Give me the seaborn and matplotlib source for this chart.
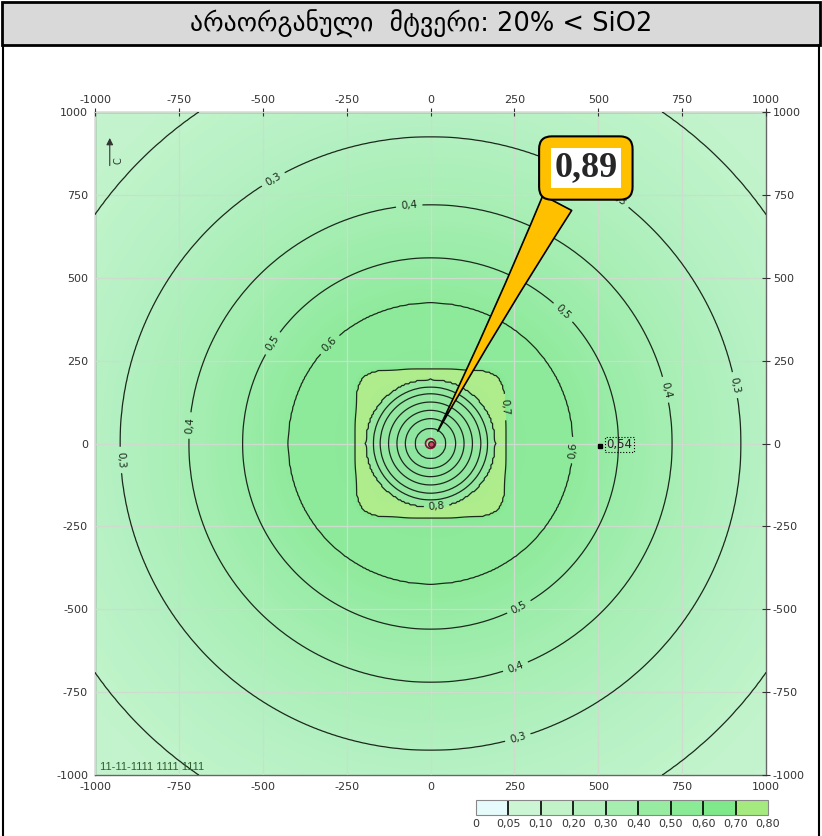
import numpy as np
import matplotlib
matplotlib.use("Agg")
import matplotlib.pyplot as plt
import seaborn as sns
from matplotlib.colors import LinearSegmentedColormap, ListedColormap, BoundaryNorm
from matplotlib.patches import Rectangle
from matplotlib.lines import Line2D

title = "არაორგანული  მტვერი: 20% < SiO2"
ticks = [-1000, -750, -500, -250, 0, 250, 500, 750, 1000]

# isolines: level value and its distance (m) from the source
peak_level = [0.89, 0.88, 0.86, 0.85, 0.84, 0.83, 0.82, 0.81, 0.80, 0.0]
peak_radius = [0, 15, 45, 75, 100, 125, 150, 170, 195, 215]
# square-ish 0.7 plateau around the source
plateau_level = [0.75, 0.70, 0.55, 0.0]
plateau_radius = [0, 225, 250, 300]
# outer round isolines
outer_level = [0.69, 0.60, 0.50, 0.40, 0.30, 0.20, 0.15]
outer_radius = [0, 425, 560, 720, 925, 1215, 1500]

main_levels = [0.2, 0.3, 0.4, 0.5, 0.6, 0.7, 0.8]
inner_levels = [0.81, 0.82, 0.83, 0.84, 0.85, 0.86]

max_text = "0,89"
point_x, point_y, point_text = 505, -8, "0,54"
bottom_text = "11-11-1111 1111 1111"

legend_bounds = [0, 0.05, 0.10, 0.20, 0.30, 0.40, 0.50, 0.60, 0.70, 0.80]
legend_labels = ["0", "0,05", "0,10", "0,20", "0,30", "0,40", "0,50", "0,60", "0,70", "0,80"]
legend_colors = ["#e6fbfb", "#ccf5d4", "#c2f3c8", "#b4f0bc", "#a6eeb0",
                 "#98eca2", "#8aea96", "#7ee88a", "#a4ea7e"]

sns.set_style("white")
plt.rcParams["font.family"] = ["DejaVu Sans"]
plt.rcParams["axes.unicode_minus"] = False

# field
g = np.linspace(-1000, 1000, 401)
X, Y = np.meshgrid(g, g)
d = np.hypot(X, Y)
ds = (np.abs(X) ** 6 + np.abs(Y) ** 6) ** (1 / 6)
Z = np.maximum.reduce([np.interp(d, peak_radius, peak_level),
                       np.interp(ds, plateau_radius, plateau_level),
                       np.interp(d, outer_radius, outer_level)])

fill_cmap = LinearSegmentedColormap.from_list("fill", [
    (0.0, "#e8fafa"), (0.1 / 0.9, "#ccf4d6"), (0.2 / 0.9, "#c0f3ca"),
    (0.3 / 0.9, "#b2f0c0"), (0.4 / 0.9, "#a6eeb3"), (0.5 / 0.9, "#9aeca8"),
    (0.6 / 0.9, "#8fea9c"), (0.699 / 0.9, "#86e893"), (0.701 / 0.9, "#aeec8c"),
    (0.799 / 0.9, "#a8ea8a"), (0.801 / 0.9, "#96e8a0"), (1.0, "#8ae4a0")])

fig = plt.figure(figsize=(8.22, 8.36), dpi=100)

# title cell
fig.patches.append(Rectangle((2 / 822, 1 - 45 / 836), 818 / 822, 43 / 836,
                             transform=fig.transFigure, fc="#d9d9d9", ec="black", lw=2))
fig.lines.append(Line2D([3 / 822, 3 / 822], [0, 1 - 45 / 836], transform=fig.transFigure, color="black", lw=1.5))
fig.lines.append(Line2D([819 / 822, 819 / 822], [0, 1 - 45 / 836], transform=fig.transFigure, color="black", lw=1.5))
fig.text(421 / 822, 1 - 24 / 836, title, ha="center", va="center", fontsize=18.5, color="black")

ax = fig.add_axes([95 / 822, 1 - 775 / 836, 671 / 822, 663 / 836])
ax.contourf(X, Y, Z, levels=np.arange(0, 0.905, 0.01), cmap=fill_cmap, vmin=0, vmax=0.9)
cs = ax.contour(X, Y, Z, levels=main_levels, colors="#1c2a1c", linewidths=0.9, zorder=3)
ax.contour(X, Y, Z, levels=inner_levels, colors="#1c2a1c", linewidths=0.9, zorder=3)
ax.contour(X, Y, Z, levels=[0.88], colors="#7a1830", linewidths=1.2, zorder=4)

positions = [(-930, -50), (907, 176), (-460, 780), (266, -906), (564, 744),
             (-63, 712), (-713, 54), (692, 160), (257, -685),
             (-460, 295), (385, 385), (266, -498),
             (-292, 290), (424, -20),
             (225, 110), (18, -195)]
ax.clabel(cs, manual=positions, inline=True, fontsize=7.5,
          fmt=lambda v: f"{v:.1f}".replace(".", ","))

ax.set_xlim(-1000, 1000)
ax.set_ylim(-1000, 1000)
ax.set_xticks(ticks)
ax.set_yticks(ticks)
ax.set_axisbelow(False)
ax.grid(True, color="#cddccd", lw=0.9)
ax.tick_params(top=True, right=True, labeltop=True, labelright=True, direction="inout",
               length=6, width=0.8, labelsize=8, labelcolor="#333333", color="#333333", pad=2)
for s in ax.spines.values():
    s.set_color("#666666")
    s.set_linewidth(1)

# source and receptor point
ax.plot(0, 0, "o", ms=4, color="#d04868", mec="#5a1020", zorder=6)
ax.plot(point_x, point_y, "s", ms=3, color="black", zorder=6)
ax.text(point_x + 20, point_y + 5, point_text, fontsize=8.5, va="center", zorder=6,
        bbox=dict(boxstyle="square,pad=0.1", fc="none", ec="black", ls=":", lw=0.8))

# north arrow and stamp
ax.annotate("", xy=(0.022, 0.965), xytext=(0.022, 0.915), xycoords="axes fraction",
            arrowprops=dict(arrowstyle="-|>", lw=0.8, color="#333333"))
ax.text(0.028, 0.925, "С", transform=ax.transAxes, fontsize=7, color="#333333", rotation=90)
ax.text(0.008, 0.004, bottom_text, transform=ax.transAxes, fontsize=8, color="#2f5e2f",
        family="Liberation Sans", va="bottom")

# callout with maximum value
ax.annotate(max_text, xy=(18, 30), xytext=(463, 831), fontsize=26, fontweight="bold",
            family="Liberation Serif", ha="center", va="center", zorder=10,
            bbox=dict(boxstyle="round,pad=0.42,rounding_size=0.35", fc="#ffc000", ec="black", lw=1.5),
            arrowprops=dict(arrowstyle="wedge,tail_width=0.9,shrink_factor=0.4", fc="#ffc000",
                            ec="black", lw=1.2, relpos=(0.2, 0.0)))
ax.text(463, 831, max_text, fontsize=26, fontweight="bold", family="Liberation Serif",
        ha="center", va="center", zorder=11,
        bbox=dict(boxstyle="square,pad=0.1", fc="white", ec="none"))

# legend scale
cax = fig.add_axes([476 / 822, 1 - 815 / 836, 292 / 822, 15 / 836])
norm = BoundaryNorm(legend_bounds, len(legend_colors))
cb = fig.colorbar(plt.cm.ScalarMappable(norm=norm, cmap=ListedColormap(legend_colors)),
                  cax=cax, orientation="horizontal", spacing="uniform", drawedges=True)
cb.dividers.set_color("black")
cb.dividers.set_linewidth(1.2)
cb.outline.set_edgecolor("#888888")
cb.set_ticks(legend_bounds)
cb.set_ticklabels(legend_labels)
cax.tick_params(length=0, labelsize=8, labelcolor="#333333", pad=3)

fig.savefig("out.png", dpi=100)
